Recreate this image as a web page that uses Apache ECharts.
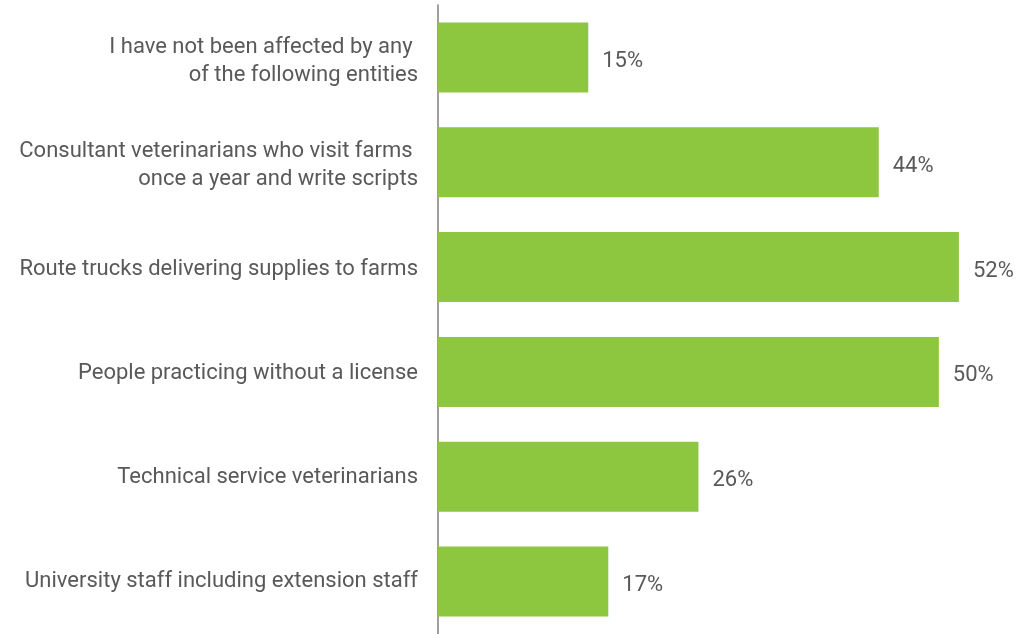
<!DOCTYPE html>
<html>
<head>
<meta charset="utf-8">
<script src="https://cdn.jsdelivr.net/npm/echarts@6/dist/echarts.min.js"></script>
<style>
  html, body { margin: 0; padding: 0; background: #fff; }
  #chart { width: 1023px; height: 634px; }
</style>
</head>
<body>
<div id="chart"></div>
<script>
// Survey responses, listed top to bottom
const categories = [
  'I have not been affected by any \nof the following entities',
  'Consultant veterinarians who visit farms \nonce a year and write scripts',
  'Route trucks delivering supplies to farms',
  'People practicing without a license',
  'Technical service veterinarians',
  'University staff including extension staff'
];
const values = [15, 44, 52, 50, 26, 17];

const textColor = '#595959';
const font = 'Roboto';

const chart = echarts.init(document.getElementById('chart'));
chart.setOption({
  animation: false,
  grid: [
    // bars
    { left: 438, top: 5, right: 4, height: 630 },
    // category names, sitting a few pixels lower than the bar centres
    { left: 438, top: 9, right: 4, height: 630 }
  ],
  xAxis: [
    { type: 'value', gridIndex: 0, min: 0, max: 58, show: false },
    { type: 'value', gridIndex: 1, min: 0, max: 58, show: false }
  ],
  yAxis: [
    {
      type: 'category',
      gridIndex: 0,
      inverse: true,
      data: categories,
      axisTick: { show: false },
      axisLabel: { show: false },
      axisLine: { show: true, lineStyle: { color: '#7f7f7f', width: 1.5 } }
    },
    {
      type: 'category',
      gridIndex: 1,
      inverse: true,
      data: categories,
      axisTick: { show: false },
      axisLine: { show: false },
      axisLabel: {
        margin: 20,
        color: textColor,
        fontFamily: font,
        fontSize: 22,
        lineHeight: 28,
        align: 'right'
      }
    }
  ],
  series: [{
    type: 'bar',
    xAxisIndex: 0,
    yAxisIndex: 0,
    data: values,
    barWidth: 70,
    itemStyle: { color: '#8dc63f' },
    label: {
      show: true,
      position: 'right',
      distance: 14,
      offset: [0, 4],
      formatter: '{c}%',
      color: textColor,
      fontFamily: font,
      fontSize: 22
    }
  }]
});
</script>
</body>
</html>
